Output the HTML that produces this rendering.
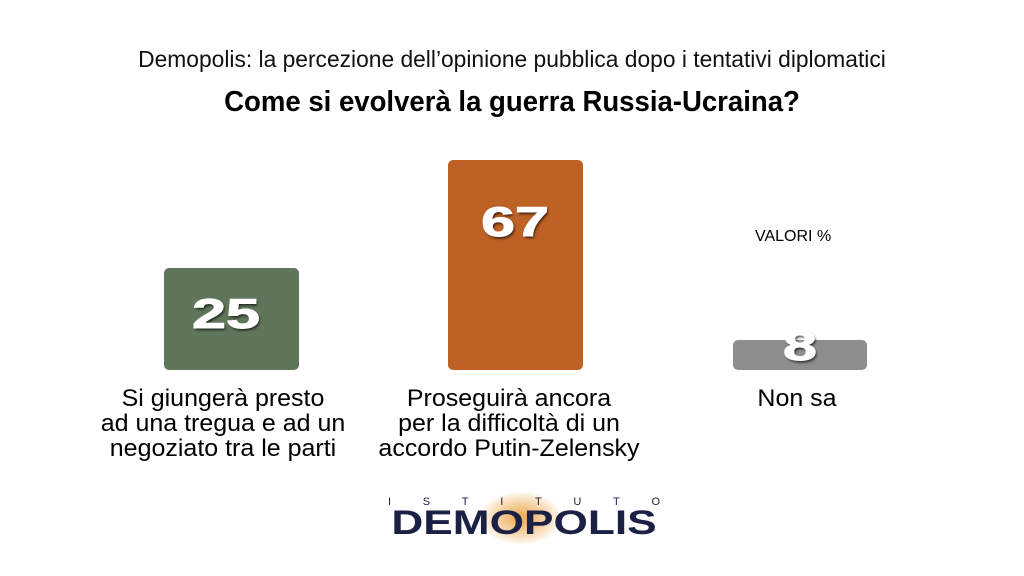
<!DOCTYPE html>
<html><head><meta charset="utf-8"><style>
body{margin:0;width:1024px;height:576px;background:#fff;font-family:"Liberation Sans",Arial,sans-serif;position:relative;overflow:hidden}
.a{position:absolute}
.t1{left:0;width:1024px;text-align:center;top:46px;font-size:22.8px;color:#111}
.t2{left:0;width:1024px;text-align:center;top:86px;font-size:29px;font-weight:bold;color:#000;transform:scaleX(0.95)}
.bar{position:absolute;border-radius:5px}
.num{position:absolute;width:200px;text-align:center;font-weight:900;font-size:42px;color:#fff;transform:scaleX(1.45);text-shadow:1px 2px 2px rgba(0,0,0,.7);-webkit-text-stroke:1px #fff}
.lab{position:absolute;width:340px;text-align:center;font-size:24.5px;line-height:25px;color:#000;transform:scaleX(1.02)}
</style></head><body>
<div class="a t1">Demopolis: la percezione dell’opinione pubblica dopo i tentativi diplomatici</div>
<div class="a t2">Come si evolverà la guerra Russia-Ucraina?</div>
<div class="bar" style="left:164px;top:268px;width:135px;height:102px;background:#60765a"></div>
<div class="bar" style="left:448px;top:160px;width:135px;height:210px;background:#bd6125"></div>
<div class="bar" style="left:733px;top:340px;width:134px;height:30px;background:#8e8e8e"></div>
<div class="num" style="left:126px;top:290px">25</div>
<div class="num" style="left:415px;top:198px">67</div>
<div class="num" style="left:700px;top:322px">8</div>
<div class="a" style="left:755px;top:228px;font-size:16px">VALORI %</div>
<div class="lab" style="left:53px;top:386px">Si giungerà presto<br>ad una tregua e ad un<br>negoziato tra le parti</div>
<div class="lab" style="left:339px;top:386px">Proseguirà ancora<br>per la difficoltà di un<br>accordo Putin-Zelensky</div>
<div class="lab" style="left:627px;top:386px">Non sa</div>
<div class="a" style="left:481px;top:492px;width:80px;height:52px;border-radius:50%;background:radial-gradient(#f0b060 10%,rgba(240,190,120,.5) 50%,rgba(255,255,255,0) 75%)"></div>
<div class="a" style="left:388px;top:496px;width:272px;display:flex;justify-content:space-between;font-size:11px;color:#1a1f3d"><span>I</span><span>S</span><span>T</span><span>I</span><span>T</span><span>U</span><span>T</span><span>O</span></div>
<div class="a" style="left:388px;top:504px;width:272px;text-align:center;font-size:34px;font-weight:900;color:#1b2045;transform:scaleX(1.3);transform-origin:center">DEMOPOLIS</div>
</body></html>
